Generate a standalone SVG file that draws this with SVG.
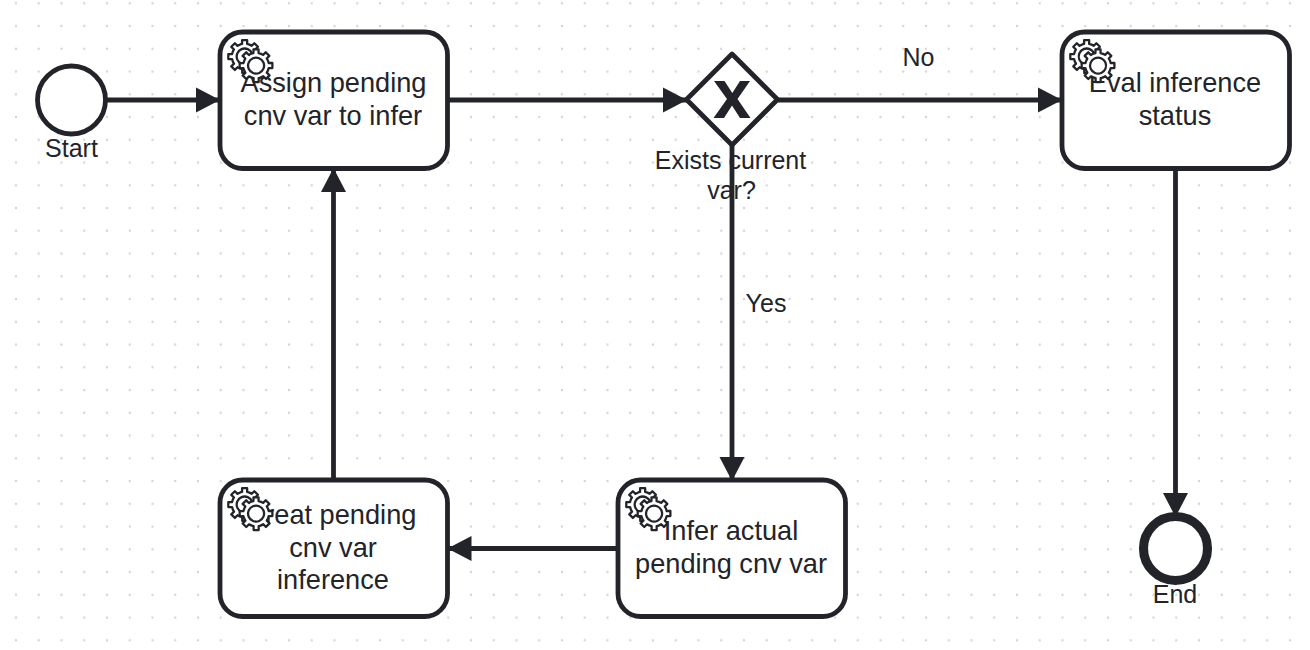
<svg xmlns="http://www.w3.org/2000/svg" width="1310" height="650" viewBox="0 0 1310 650">
<style>
text{font-family:"Liberation Sans",Arial,sans-serif;fill:#22242a;text-anchor:middle}
.t{font-size:27.2px}
.l{font-size:25px}
.task{fill:#fff;fill-opacity:.95;stroke:#22242a;stroke-width:4.8}
.c{fill:none;stroke:#22242a;stroke-width:4.8;marker-end:url(#arrow)}
.gear{fill:#fff;stroke:#22242a;stroke-width:1;stroke-linejoin:round}
</style>
<defs>
<pattern id="dots" x="16" y="3.3" width="22.75" height="22.75" patternUnits="userSpaceOnUse">
<circle cx="0" cy="0" r="1.2" fill="#d5d5d5"/><circle cx="22.75" cy="0" r="1.2" fill="#d5d5d5"/><circle cx="0" cy="22.75" r="1.2" fill="#d5d5d5"/><circle cx="22.75" cy="22.75" r="1.2" fill="#d5d5d5"/>
</pattern>
<marker id="arrow" markerUnits="userSpaceOnUse" markerWidth="26" markerHeight="26" refX="25" refY="13" orient="auto" viewBox="0 0 26 26"><path d="M1 0.5 L25 13 L1 25.500 Z" fill="#22242a"/></marker>
<path id="g" d="m 12,18 v -1.71335 c 0.352326,-0.0705 0.703932,-0.17838 1.047628,-0.32133 0.344416,-0.14465 0.665822,-0.32133 0.966377,-0.52145 l 1.19431,1.18005 1.567487,-1.57688 -1.195028,-1.18014 c 0.403376,-0.61394 0.683079,-1.29908 0.825447,-2.01824 l 1.622133,-0.01 v -2.2196 l -1.636514,0.01 c -0.07333,-0.35153 -0.178319,-0.70024 -0.323564,-1.04372 -0.145244,-0.34406 -0.321407,-0.6644 -0.522735,-0.96217 l 1.131035,-1.13631 -1.583305,-1.56293 -1.129598,1.13589 c -0.614052,-0.40108 -1.302883,-0.68093 -2.022633,-0.82247 l 0.0093,-1.61852 h -2.241173 l 0.0042,1.63124 c -0.353763,0.0736 -0.705369,0.17977 -1.049785,0.32371 -0.344415,0.14437 -0.665102,0.32092 -0.9635006,0.52046 l -1.1698628,-1.15823 -1.5667691,1.5792 1.1684265,1.15669 c -0.4026573,0.61283 -0.68308,1.29797 -0.8247287,2.01713 l -1.6588041,0.003 v 2.22174 l 1.6724648,-0.006 c 0.073327,0.35077 0.1797598,0.70243 0.3242851,1.04472 0.1452428,0.34448 0.3214064,0.6644 0.5227339,0.96066 l -1.1993431,1.19723 1.5840256,1.56011 1.1964668,-1.19348 c 0.6140517,0.40346 1.3028827,0.68232 2.0233517,0.82331 l 7.19e-4,1.69892 h 2.226848 z m 0.221462,-3.9957 c -1.788948,0.7502 -3.8576,-0.0928 -4.6097055,-1.87438 -0.7521065,-1.78321 0.090598,-3.84627 1.8802645,-4.59604 1.78823,-0.74936 3.856881,0.0929 4.608987,1.87437 0.752106,1.78165 -0.0906,3.84612 -1.879546,4.59605 z"/>
<g id="icon">
<use href="#g" class="gear" transform="scale(2.275)"/>
<circle cx="15.5" cy="14.700" r="5" fill="#fff" transform="scale(2.275)"/>
<use href="#g" class="gear" transform="scale(2.275) translate(5,4)"/>
</g>
</defs>
<rect id="grid" width="1310" height="650" fill="#fff"/>
<rect width="1310" height="650" fill="url(#dots)"/>

<g id="start"><circle cx="71.500" cy="100" r="34" fill="#fff" fill-opacity=".95" stroke="#22242a" stroke-width="4.8"/><text class="l" x="71.500" y="157">Start</text></g>

<g id="assign"><rect class="task" x="220" y="32" width="227.500" height="136.500" rx="22.75"/>
<text class="t" x="333.500" y="92">Assign pending</text><text class="t" x="333" y="125">cnv var to infer</text>
<use href="#icon" transform="translate(220,32)"/></g>

<g id="gateway"><path d="M732 54 L777.500 99.500 L732 145 L686.500 99.500 Z" fill="#fff" fill-opacity=".95" stroke="#22242a" stroke-width="4.8" stroke-linejoin="round"/>
<path d="M714 81 H724.500 L732.300 93 L740 81 H750 L737.500 99 L750.500 118 H740 L732 105.500 L724 118 H713.500 L727 99 Z" fill="#22242a"/>
<text class="l" x="730.500" y="168.500">Exists current</text><text class="l" x="731.500" y="198.500">var?</text></g>

<g id="eval"><rect class="task" x="1062" y="32" width="227.500" height="136.500" rx="22.75"/>
<text class="t" x="1175" y="92">Eval inference</text><text class="t" x="1175" y="125">status</text>
<use href="#icon" transform="translate(1062,32)"/></g>

<g id="infer"><rect class="task" x="618" y="480" width="227.500" height="136.500" rx="22.75"/>
<text class="t" x="731" y="540">Infer actual</text><text class="t" x="731" y="573">pending cnv var</text>
<use href="#icon" transform="translate(618,480)"/></g>

<g id="treat"><rect class="task" x="220" y="480" width="227.500" height="136.500" rx="22.75"/>
<text class="t" x="333" y="524">Treat pending</text><text class="t" x="333" y="557">cnv var</text><text class="t" x="333" y="589">inference</text>
<use href="#icon" transform="translate(220,480)"/></g>

<g id="end"><circle cx="1175.500" cy="548.500" r="32" fill="#fff" fill-opacity=".95" stroke="#22242a" stroke-width="9.1"/><text class="l" x="1175" y="603">End</text></g>

<g id="connectors">
<path class="c" d="M106 100 H220"/>
<path class="c" d="M447.500 100 H687"/>
<path class="c" d="M777.500 100 H1062"/>
<path class="c" d="M732 145 V481"/>
<path class="c" d="M1175.500 168.500 V517"/>
<path class="c" d="M618 548.500 H447.500"/>
<path class="c" d="M333.500 480 V168"/>
</g>
<g id="edge-labels"><text class="l" x="918.500" y="66">No</text><text class="l" x="766" y="312">Yes</text></g>
</svg>
